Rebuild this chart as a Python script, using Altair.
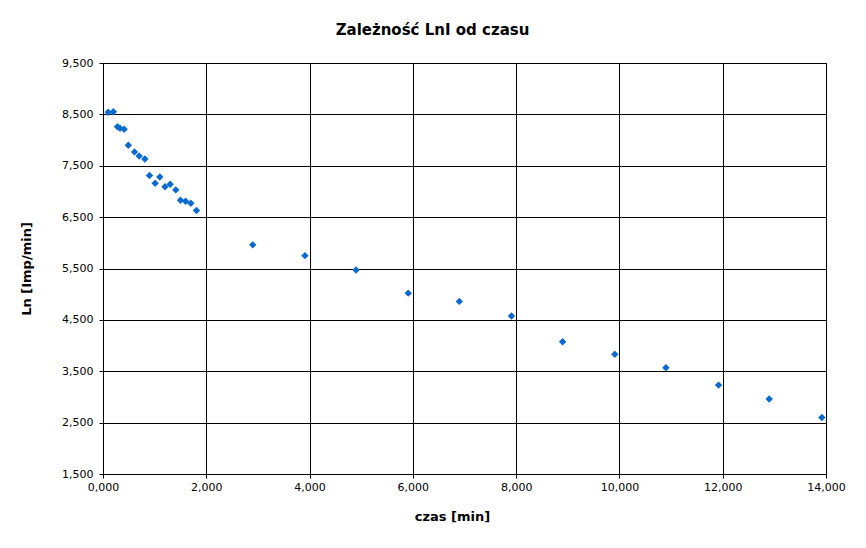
import altair as alt
import pandas as pd

czas = [0.10, 0.20, 0.28, 0.33, 0.41, 0.49, 0.61, 0.70, 0.81, 0.90, 1.01, 1.10,
        1.20, 1.30, 1.41, 1.50, 1.60, 1.70, 1.81,
        2.90, 3.91, 4.90, 5.91, 6.90, 7.91, 8.90, 9.91, 10.90, 11.92, 12.90, 13.92]
ln = [8.54, 8.55, 8.26, 8.23, 8.21, 7.90, 7.77, 7.69, 7.63, 7.31, 7.16, 7.28,
      7.09, 7.14, 7.03, 6.83, 6.81, 6.77, 6.63,
      5.96, 5.75, 5.47, 5.02, 4.86, 4.575, 4.075, 3.83, 3.57, 3.23, 2.96, 2.60]

df = pd.DataFrame({"czas": czas, "ln": ln})

lab = "replace(format(datum.value, '.3f'), '.', ',')"

chart = alt.Chart(df).mark_point(
    shape="diamond", filled=True, color="#0A6AD0", opacity=1, size=55
).encode(
    x=alt.X("czas:Q", scale=alt.Scale(domain=[0, 14], nice=False),
            axis=alt.Axis(title="czas [min]", values=[0, 2, 4, 6, 8, 10, 12, 14],
                          labelExpr=lab, titlePadding=18, titleX=349,
                          labelFlush=False)),
    y=alt.Y("ln:Q", scale=alt.Scale(domain=[1.5, 9.5], nice=False, zero=False),
            axis=alt.Axis(title="Ln [Imp/min]", values=[1.5, 2.5, 3.5, 4.5, 5.5, 6.5, 7.5, 8.5, 9.5],
                          labelExpr=lab, titlePadding=28, labelPadding=6, labelFlush=False)),
).properties(
    width=723, height=411,
    title=alt.TitleParams("Zależność LnI od czasu", frame="group", dx=-32,
                          fontSize=15, fontWeight="bold", font="DejaVu Sans",
                          offset=19, color="#000000"),
    autosize=alt.AutoSizeParams(type="none"),
    padding={"left": 95, "top": 55, "right": 32, "bottom": 66},
).configure_axis(
    grid=True, gridColor="#000000", gridOpacity=1, gridWidth=1,
    domainColor="#000000", tickColor="#000000", tickSize=4,
    labelFont="DejaVu Sans", labelFontSize=11, labelColor="#000000",
    titleFont="DejaVu Sans", titleFontSize=13, titleFontWeight="bold", titleColor="#000000",
).configure_axisX(labelPadding=3).configure_view(
    stroke="#000000", strokeWidth=1
)

chart.save("out.html", embed_options={"renderer": "svg", "actions": False})
